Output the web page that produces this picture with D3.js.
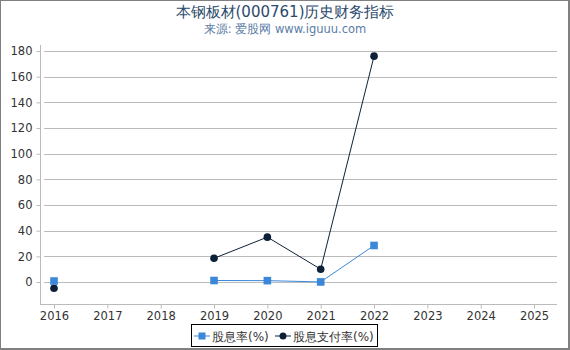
<!DOCTYPE html>
<html>
<head>
<meta charset="utf-8">
<script src="https://cdn.jsdelivr.net/npm/d3@7"></script>
<style>
  body { margin: 0; }
  svg { font-family: "DejaVu Sans", sans-serif; }
</style>
</head>
<body>
<div id="frame"></div>
<script>
// data
let years = [2016, 2017, 2018, 2019, 2020, 2021, 2022, 2023, 2024, 2025];
let yieldVals = [0.8, null, null, 1.2, 1.1, 0.1, 28.5, null, null, null];
let payoutVals = [-4.8, null, null, 18.5, 35, 10, 176, null, null, null];
let yTicks = [0, 20, 40, 60, 80, 100, 120, 140, 160, 180];

let W = 570, H = 350;
let plot = { left: 40, right: 557, top: 45, bottom: 304 };

let svg = d3.select('#frame').append('svg')
  .attr('width', W).attr('height', H);

// outer border (thin top/left, thicker right/bottom)
svg.append('rect')
  .attr('x', 0).attr('y', 0).attr('width', W).attr('height', H)
  .attr('fill', '#808080');
svg.append('rect')
  .attr('x', 1).attr('y', 1).attr('width', W - 3).attr('height', H - 3)
  .attr('fill', 'white');

// title
svg.append('text')
  .attr('x', W / 2).attr('y', 17)
  .attr('text-anchor', 'middle')
  .style('font-size', '15px').style('fill', '#2c4a6b')
  .text('本钢板材(000761)历史财务指标');
svg.append('text')
  .attr('x', W / 2).attr('y', 33)
  .attr('text-anchor', 'middle')
  .style('font-size', '11.5px').style('fill', '#5a7ca6')
  .text('来源: 爱股网 www.iguuu.com');

// scales
let x = d3.scaleLinear()
  .domain([2015.7375, 2025.43])
  .range([plot.left, plot.right]);
let y = d3.scaleLinear()
  .domain([-17.1, 184.7])
  .range([plot.bottom, plot.top]);

// grid
svg.append('g')
  .selectAll('line')
  .data(yTicks)
  .enter().append('line')
  .attr('x1', plot.left + 4).attr('x2', plot.right)
  .attr('y1', d => Math.round(y(d)) + 0.5).attr('y2', d => Math.round(y(d)) + 0.5)
  .attr('stroke', '#bbb').attr('stroke-width', 1);

// y axis
let yAxis = svg.append('g')
  .attr('transform', 'translate(' + (plot.left + 0.5) + ',0)')
  .call(d3.axisLeft(y).tickValues(yTicks).tickSize(4).tickPadding(4));
yAxis.select('.domain').attr('stroke', '#bbb').attr('d', 'M0,' + plot.top + 'V' + plot.bottom);
yAxis.selectAll('.tick line').attr('stroke', '#bbb');
yAxis.selectAll('.tick text').style('font-size', '11.5px').style('fill', '#333')
  .style('font-family', '"DejaVu Sans", sans-serif');

// x axis
let xAxis = svg.append('g')
  .attr('transform', 'translate(0,' + (plot.bottom + 0.5) + ')')
  .call(d3.axisBottom(x).tickValues(years).tickFormat(d3.format('d')).tickSize(4).tickPadding(3));
xAxis.select('.domain').attr('stroke', '#bbb').attr('d', 'M' + plot.left + ',0H' + plot.right);
xAxis.selectAll('.tick line').attr('stroke', '#bbb');
xAxis.selectAll('.tick text').style('font-size', '11.5px').style('fill', '#333')
  .style('font-family', '"DejaVu Sans", sans-serif');

let blue = '#3b87d9', navy = '#0e2038';

function series(vals) {
  return years.map((yr, i) => ({ year: yr, v: vals[i] }));
}
let line = d3.line()
  .defined(d => d.v !== null)
  .x(d => x(d.year)).y(d => y(d.v));

// payout line + markers
let pay = series(payoutVals);
svg.append('path').datum(pay)
  .attr('d', line).attr('fill', 'none').attr('stroke', navy).attr('stroke-width', 1);
svg.append('g').selectAll('circle')
  .data(pay.filter(d => d.v !== null))
  .enter().append('circle')
  .attr('cx', d => x(d.year)).attr('cy', d => y(d.v)).attr('r', 3.8)
  .attr('fill', navy);

// yield line + markers
let yl = series(yieldVals);
svg.append('path').datum(yl)
  .attr('d', line).attr('fill', 'none').attr('stroke', blue).attr('stroke-width', 1);
svg.append('g').selectAll('rect')
  .data(yl.filter(d => d.v !== null))
  .enter().append('rect')
  .attr('x', d => x(d.year) - 3.8).attr('y', d => y(d.v) - 3.8)
  .attr('width', 7.6).attr('height', 7.6)
  .attr('fill', blue);

// legend
let lg = svg.append('g').attr('transform', 'translate(191,324)');
lg.append('rect')
  .attr('x', 0.5).attr('y', 0.5).attr('width', 186).attr('height', 22)
  .attr('fill', 'white').attr('stroke', '#000');
lg.append('line').attr('x1', 3).attr('x2', 19).attr('y1', 12).attr('y2', 12).attr('stroke', blue);
lg.append('rect').attr('x', 7.5).attr('y', 8.5).attr('width', 7).attr('height', 7).attr('fill', blue);
lg.append('text').attr('x', 21).attr('y', 16.5)
  .style('font-size', '12px').style('fill', '#333').text('股息率(%)');
lg.append('line').attr('x1', 84).attr('x2', 100).attr('y1', 12).attr('y2', 12).attr('stroke', navy);
lg.append('circle').attr('cx', 92).attr('cy', 12).attr('r', 3.5).attr('fill', navy);
lg.append('text').attr('x', 102).attr('y', 16.5)
  .style('font-size', '12px').style('fill', '#333').text('股息支付率(%)');
</script>
</body>
</html>
